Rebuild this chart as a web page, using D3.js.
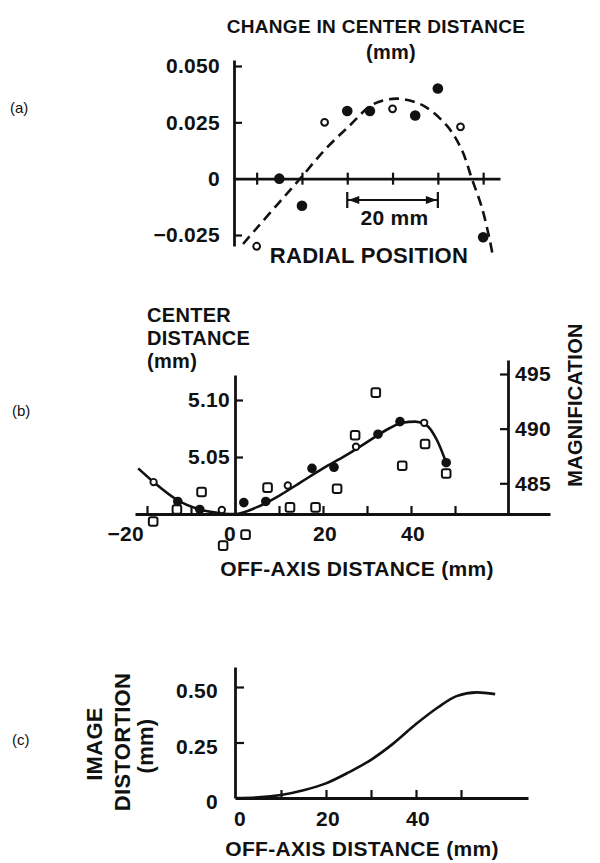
<!DOCTYPE html>
<html><head><meta charset="utf-8">
<script src="https://cdn.jsdelivr.net/npm/d3@7"></script>
<style>
body{margin:0;background:#fff}
svg{display:block}
text{font-family:"Liberation Sans",Arial,Helvetica,sans-serif;font-weight:bold;fill:#111;letter-spacing:0.3px}
text.plab{font-weight:normal;letter-spacing:0}
</style></head><body>
<svg id="chart" width="600" height="863"></svg>
<script>
// ---------- Panel (a): change in center distance vs radial position ----------
const aRadial   = [5, 10, 15, 20, 25, 30, 35, 40, 45, 50, 55];
const aChange   = [-0.030, 0.000, -0.012, 0.025, 0.030, 0.030, 0.031, 0.028, 0.040, 0.023, -0.026];
const aOpen     = [true, false, false, true, false, false, true, false, false, true, false];
const aFitX     = [2, 5, 10, 14.6, 20, 25.6, 30.7, 36, 41.7, 47, 50.3, 52.5, 54.7, 56.5, 57.2];
const aFitY     = [-0.029, -0.022, -0.0105, 0, 0.0127, 0.0237, 0.033, 0.0355, 0.0325, 0.0235, 0.0127, 0, -0.0127, -0.0276, -0.035];
const aYTicks   = [-0.025, 0, 0.025, 0.05];
const aXTicks   = [5, 15, 25, 35, 45, 55];
const aScaleBar = [25, 45];

// ---------- Panel (b): center distance & magnification vs off-axis distance ----------
const bOffAxis  = [-18.5, -13, -8, -3, 2, 7, 12, 17.5, 22.5, 27.5, 32.5, 37.5, 43, 48];
const bCenter   = [5.028, 5.011, 5.004, 5.0035, 5.010, 5.011, 5.025, 5.040, 5.041, 5.059, 5.070, 5.081, 5.080, 5.045];
const bOpen     = [true, false, false, true, false, false, true, false, false, true, false, false, true, false];
const bMagX     = [-18.6, -13.2, -7.6, -2.7, 2.4, 7.4, 12.5, 18.3, 23.2, 27.3, 32, 38, 43.2, 48];
const bMag      = [481.5, 482.6, 484.2, 479.3, 480.3, 484.6, 482.8, 482.8, 484.5, 489.4, 493.3, 486.6, 488.6, 485.9];
const bFitX     = [-22, -18.5, -13, -8, -4, -1.5, 0, 5, 10, 15, 20, 25, 30, 35, 38, 41, 43.5, 46, 48];
const bFitY     = [5.040, 5.028, 5.012, 5.004, 5.001, 5.000, 5.000, 5.006, 5.016, 5.028, 5.040, 5.051, 5.063, 5.075, 5.080, 5.081, 5.078, 5.064, 5.045];
const bXTicks   = [-20, -10, 10, 20, 30, 40, 50];
const bXLabels  = [-20, 0, 20, 40];
const bLTicks   = [5.05, 5.10];
const bRTicks   = [485, 490, 495];

// ---------- Panel (c): image distortion vs off-axis distance ----------
const cOffAxis    = [0, 5, 10, 15, 20, 25, 30, 35, 40, 45, 49, 53.5, 57.6];
const cDistortion = [0, 0.003, 0.0135, 0.035, 0.066, 0.115, 0.172, 0.246, 0.333, 0.41, 0.459, 0.476, 0.468];
const cXTicks     = [10, 20, 30, 40, 50];
const cXLabels    = [0, 20, 40];
const cYTicks     = [0, 0.25, 0.5];

const INK = "#111";
const FS = 21;
const svg = d3.select("#chart");
const minus = s => String(s).replace("-", "\u2212");

function styleAxis(g) {
  g.attr("font-size", FS);
  g.select("path.domain").attr("stroke", INK).attr("stroke-width", 2.8);
  g.selectAll(".tick line").attr("stroke", INK).attr("stroke-width", 2.2);
  g.selectAll(".tick text").attr("fill", INK);
}
function extend(scale, r0, r1) {
  return scale.copy().domain([scale.invert(r0), scale.invert(r1)]).range([r0, r1]);
}
function label(x, y, t, anchor = "middle", fs = FS) {
  return svg.append("text").attr("x", x).attr("y", y).attr("text-anchor", anchor).attr("font-size", fs).text(t);
}

// ===== Panel (a) =====
{
  const x = d3.scaleLinear().domain([0, 10]).range([234, 279.3]);
  const y = d3.scaleLinear().domain([-0.025, 0.05]).range([235, 66]);
  const xAx = extend(x, 234, 500);
  const yAx = extend(y, 246, 60);

  const gy = svg.append("g").attr("transform", "translate(234,0)")
    .call(d3.axisLeft(yAx).tickValues(aYTicks).tickSize(-8).tickSizeOuter(0).tickPadding(14)
      .tickFormat(d => d === 0 ? "0" : d3.format(".3f")(d)));
  styleAxis(gy);
  gy.selectAll(".tick").filter(d => d === 0).select("line").remove();

  const gx = svg.append("g").attr("transform", `translate(0,${y(0)})`)
    .call(d3.axisBottom(xAx).tickValues(aXTicks).tickSize(6).tickSizeOuter(0).tickFormat(""));
  styleAxis(gx);
  gx.selectAll(".tick line").attr("y1", -6);

  const fit = aFitX.map((v, i) => [v, aFitY[i]]);
  svg.append("path").datum(fit)
    .attr("d", d3.line().x(d => x(d[0])).y(d => y(d[1])).curve(d3.curveCatmullRom))
    .attr("fill", "none").attr("stroke", INK).attr("stroke-width", 2.6).attr("stroke-dasharray", "10,6");

  const pts = aRadial.map((v, i) => ({x: v, y: aChange[i], open: aOpen[i]}));
  svg.append("g").selectAll("circle").data(pts).join("circle")
    .attr("cx", d => x(d.x)).attr("cy", d => y(d.y))
    .attr("r", d => d.open ? 3.4 : 5.3)
    .attr("fill", d => d.open ? "#fff" : INK)
    .attr("stroke", INK).attr("stroke-width", d => d.open ? 2 : 0);

  // 20 mm scale bar
  const x0 = x(aScaleBar[0]), x1 = x(aScaleBar[1]), yb = 200;
  const sb = svg.append("g").attr("stroke", INK).attr("stroke-width", 2.2);
  sb.append("line").attr("x1", x0).attr("x2", x1).attr("y1", yb).attr("y2", yb);
  sb.append("line").attr("x1", x0).attr("x2", x0).attr("y1", yb - 8).attr("y2", yb + 8);
  sb.append("line").attr("x1", x1).attr("x2", x1).attr("y1", yb - 8).attr("y2", yb + 8);
  svg.append("path").attr("fill", INK)
    .attr("d", `M${x0 + 1},${yb}l11,-4v8z M${x1 - 1},${yb}l-11,-4v8z`);
  label((x0 + x1) / 2 + 2, 225, `${aScaleBar[1] - aScaleBar[0]} mm`);

  label(369, 263, "RADIAL POSITION", "middle", 22);
  label(376, 33, "CHANGE IN CENTER DISTANCE", "middle", 19);
  label(391, 59, "(mm)", "middle", 20);
  svg.append("text").attr("class", "plab").attr("x", 10).attr("y", 113).attr("font-size", 15).text("(a)");
}

// ===== Panel (b) =====
{
  const x = d3.scaleLinear().domain([0, 10]).range([235, 279]);
  const yL = d3.scaleLinear().domain([5.0, 5.1]).range([514, 400]);
  const yR = d3.scaleLinear().domain([485, 495]).range([483.3, 374]);
  const xAx = extend(x, 135, 550);
  const yLAx = extend(yL, 514, 375);
  const yRAx = extend(yR, 514, 360);

  const gx = svg.append("g").attr("transform", "translate(0,514)")
    .call(d3.axisBottom(xAx).tickValues(bXTicks).tickSize(-8).tickSizeOuter(0).tickFormat(""));
  styleAxis(gx);
  svg.append("g").selectAll("text").data(bXLabels).join("text")
    .attr("x", d => d < 0 ? x(d) - 3 : x(d) + (d === 0 ? -5 : 2))
    .attr("y", 541).attr("text-anchor", d => d < 0 ? "end" : "middle").attr("font-size", FS)
    .text(d => minus(d));

  const gl = svg.append("g").attr("transform", "translate(235,0)")
    .call(d3.axisLeft(yLAx).tickValues(bLTicks).tickSize(-8).tickSizeOuter(0).tickPadding(5)
      .tickFormat(d3.format(".2f")));
  styleAxis(gl);

  const gr = svg.append("g").attr("transform", "translate(508,0)")
    .call(d3.axisRight(yRAx).tickValues(bRTicks).tickSize(-8).tickSizeOuter(0).tickPadding(7));
  styleAxis(gr);

  const fit = bFitX.map((v, i) => [v, bFitY[i]]);
  svg.append("path").datum(fit)
    .attr("d", d3.line().x(d => x(d[0])).y(d => yL(d[1])).curve(d3.curveMonotoneX))
    .attr("fill", "none").attr("stroke", INK).attr("stroke-width", 2.6);

  const sq = bMagX.map((v, i) => ({x: v, y: bMag[i]}));
  svg.append("g").selectAll("rect").data(sq).join("rect")
    .attr("x", d => x(d.x) - 4.3).attr("y", d => yR(d.y) - 4.3)
    .attr("width", 8.6).attr("height", 8.6).attr("rx", 2)
    .attr("fill", "#fff").attr("stroke", INK).attr("stroke-width", 2);

  const pts = bOffAxis.map((v, i) => ({x: v, y: bCenter[i], open: bOpen[i]}));
  svg.append("g").selectAll("circle").data(pts).join("circle")
    .attr("cx", d => x(d.x)).attr("cy", d => yL(d.y))
    .attr("r", d => d.open ? 3.2 : 4.8)
    .attr("fill", d => d.open ? "#fff" : INK)
    .attr("stroke", INK).attr("stroke-width", d => d.open ? 1.9 : 0);

  ["CENTER", "DISTANCE", "(mm)"].forEach((t, i) => label(147, 322 + i * 23, t, "start", 20));
  svg.append("text").attr("transform", "translate(582,405) rotate(-90)").attr("text-anchor", "middle")
    .attr("font-size", 20).text("MAGNIFICATION");
  label(357, 576, "OFF-AXIS DISTANCE (mm)");
  svg.append("text").attr("class", "plab").attr("x", 12).attr("y", 416).attr("font-size", 15).text("(b)");
}

// ===== Panel (c) =====
{
  const x = d3.scaleLinear().domain([0, 20]).range([236, 326]);
  const y = d3.scaleLinear().domain([0, 0.5]).range([798, 687]);
  const xAx = extend(x, 235, 528);
  const yAx = extend(y, 798, 667);

  const gy = svg.append("g").attr("transform", "translate(235,0)")
    .call(d3.axisLeft(yAx).tickValues(cYTicks).tickSize(-9).tickSizeOuter(0).tickPadding(17)
      .tickFormat(d => d === 0 ? "0" : d3.format(".2f")(d)));
  styleAxis(gy);
  gy.selectAll(".tick text").attr("dy", "0.5em");
  gy.selectAll(".tick").filter(d => d === 0).select("line").remove();

  const gx = svg.append("g").attr("transform", "translate(0,798)")
    .call(d3.axisBottom(xAx).tickValues(cXTicks).tickSize(-8).tickSizeOuter(0).tickFormat(""));
  styleAxis(gx);
  svg.append("g").selectAll("text").data(cXLabels).join("text")
    .attr("x", d => x(d) + (d === 0 ? 4 : 2)).attr("y", 826).attr("text-anchor", "middle").attr("font-size", FS)
    .text(d => d);

  const curve = cOffAxis.map((v, i) => [v, cDistortion[i]]);
  svg.append("path").datum(curve)
    .attr("d", d3.line().x(d => x(d[0])).y(d => y(d[1])).curve(d3.curveMonotoneX))
    .attr("fill", "none").attr("stroke", INK).attr("stroke-width", 2.6);

  [["IMAGE", 102, 744], ["DISTORTION", 130, 742], ["(mm)", 153, 746]].forEach(([t, bx, cy]) =>
    svg.append("text").attr("transform", `translate(${bx},${cy}) rotate(-90)`)
      .attr("text-anchor", "middle").attr("font-size", 22).text(t));
  label(362, 856, "OFF-AXIS DISTANCE (mm)");
  svg.append("text").attr("class", "plab").attr("x", 12).attr("y", 745).attr("font-size", 15).text("(c)");
}
</script>
</body></html>
